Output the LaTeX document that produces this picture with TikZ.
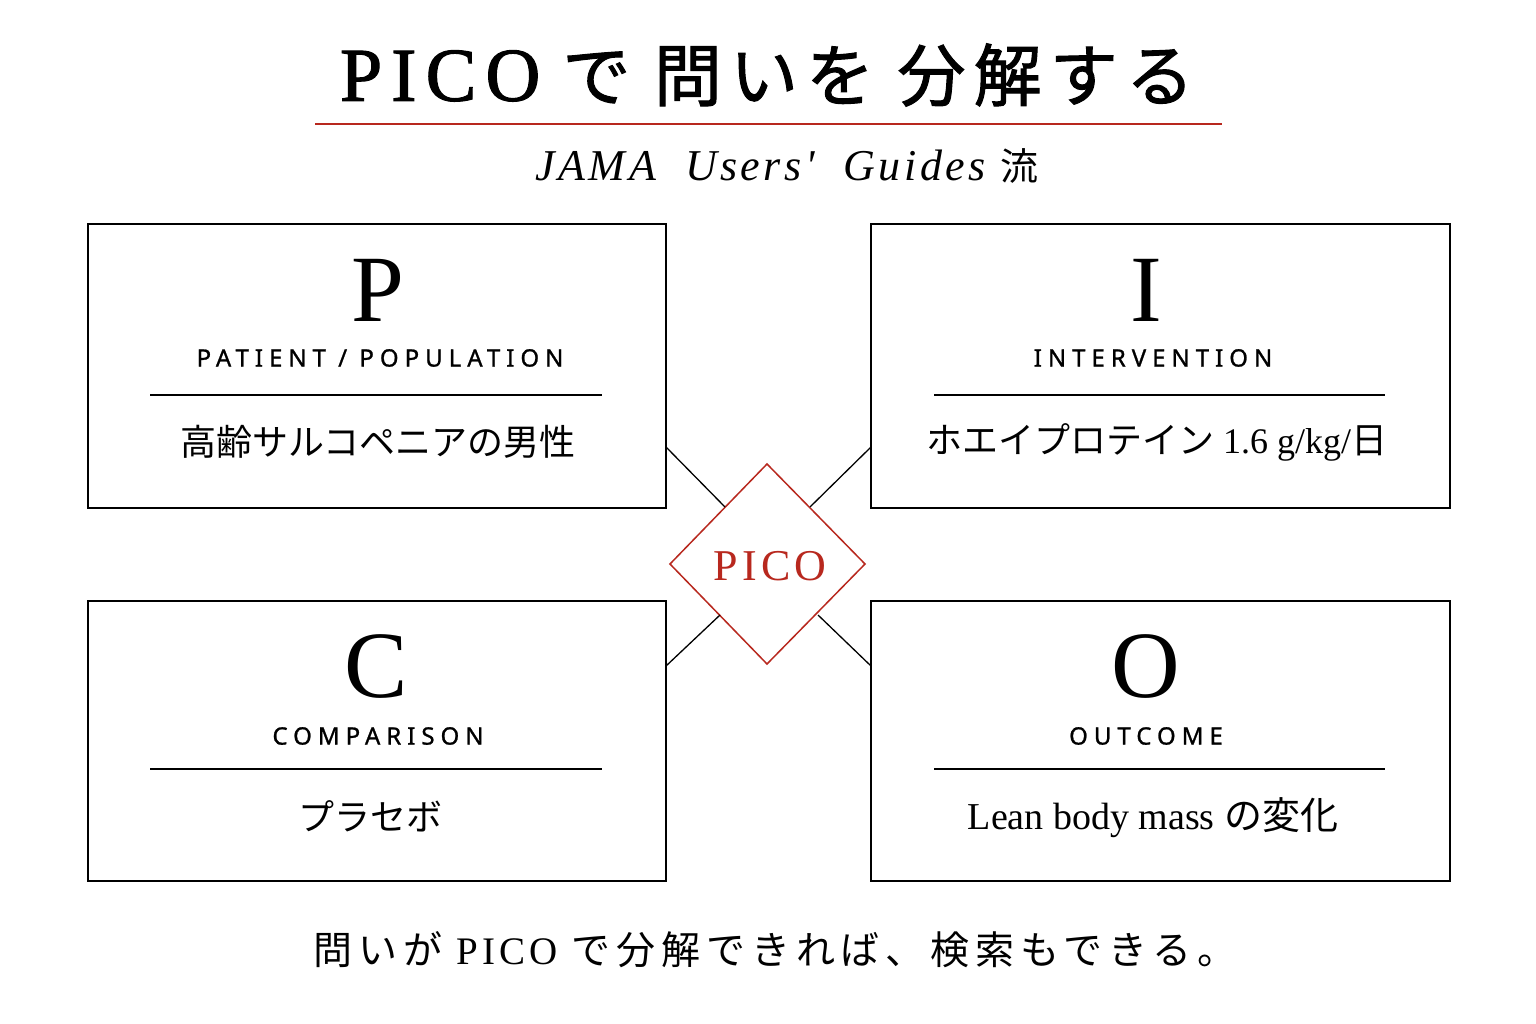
\documentclass[tikz,border=0pt]{standalone}
\usepackage{fontspec}
\setmainfont{Liberation Serif}
\newfontfamily\jp{Noto Sans CJK JP}
\newfontfamily\jpb[LetterSpace=12,FakeBold=1.5]{Noto Sans CJK JP}
\newfontfamily\jpf[LetterSpace=15]{Noto Sans CJK JP}
\newfontfamily\lbl[LetterSpace=25,FakeBold=1]{Noto Sans}
\newfontfamily\ttl[LetterSpace=10]{Liberation Serif}
\newfontfamily\ttlb[LetterSpace=12,FakeBold=1.5]{Liberation Serif}
\newfontfamily\subf[Ligatures=TeXOff,LetterSpace=8]{Liberation Serif}
\definecolor{pred}{HTML}{B8281E}
\begin{document}
\begin{tikzpicture}[x=1pt,y=-1pt,
  card/.style={draw=black,line width=1.6pt},
  big/.style={font=\fontsize{95}{100}\selectfont},
  lab/.style={font=\lbl\fontsize{24}{28}\selectfont},
  body/.style={font=\fontsize{36}{40}\selectfont}]
\useasboundingbox (0,0) rectangle (1536,1024);
\fill[white] (0,0) rectangle (1536,1024);
% title
\node (title) at (767,75) {\ttlb\fontsize{76}{80}\selectfont PICO\hspace{22pt}{\jpb\fontsize{68}{72}\selectfont で 問いを 分解する}};
\draw[pred,line width=1.5pt] (315,124) -- (1222,124);
\node (sub) at (787,166) {\subf\fontsize{44}{48}\selectfont\itshape JAMA\ \ Users'\ \ Guides\ {\jp\upshape\fontsize{38}{40}\selectfont 流}};
% boxes
\draw[card] (88,224) rectangle (666,508);
\draw[card] (871,224) rectangle (1450,508);
\draw[card] (88,601) rectangle (666,881);
\draw[card] (871,601) rectangle (1450,881);
% P
\node[big] (P) at (378,290) {P};
\node[lab] (Pl) at (380,358) {PATIENT / POPULATION};
\draw[line width=1.4pt] (150,395) -- (602,395);
\node[body] (Pt) at (378,442) {\jp 高齢サルコペニアの男性};
% I
\node[big] (I) at (1146,290) {I};
\node[lab] (Il) at (1153,358) {INTERVENTION};
\draw[line width=1.4pt] (934,395) -- (1385,395);
\node[body] (It) at (1157,442) {\jp ホエイプロテイン {\rmfamily 1.6 g/kg/}日};
% C
\node[big] (C) at (376,667) {C};
\node[lab] (Cl) at (378,736) {COMPARISON};
\draw[line width=1.4pt] (150,769) -- (602,769);
\node[body] (Ct) at (370,816) {\jp プラセボ};
% O
\node[big] (O) at (1146,667) {O};
\node[lab] (Ol) at (1146,736) {OUTCOME};
\draw[line width=1.4pt] (934,769) -- (1385,769);
\node[body] (Ot) at (1153,818) {\fontsize{38}{40}\selectfont Lean body mass {\jp の変化}};
% diamond
\coordinate (dt) at (767,464); \coordinate (dr) at (865,564);
\coordinate (db) at (767,664); \coordinate (dl) at (670,564);
\draw[pred,line width=1.5pt,fill=white] (dt) -- (dr) -- (db) -- (dl) -- cycle;
\node[text=pred,font=\ttl\fontsize{44}{48}\selectfont] (pico) at (770,566) {PICO};
% connectors
\coordinate (a1) at (666,447); \coordinate (a2) at (725,507);
\coordinate (b1) at (871,447); \coordinate (b2) at (810,507);
\coordinate (c1) at (666,666); \coordinate (c2) at (720,615);
\coordinate (e1) at (871,666); \coordinate (e2) at (818,615);
\draw[line width=1.3pt] (a1) -- (a2); \draw[line width=1.3pt] (b1) -- (b2);
\draw[line width=1.3pt] (c1) -- (c2); \draw[line width=1.3pt] (e1) -- (e2);
% footer
\node (foot) at (775,950) {\jpf\fontsize{39}{42}\selectfont 問いが {\ttl PICO} で分解できれば、検索もできる。};
\end{tikzpicture}
\end{document}
